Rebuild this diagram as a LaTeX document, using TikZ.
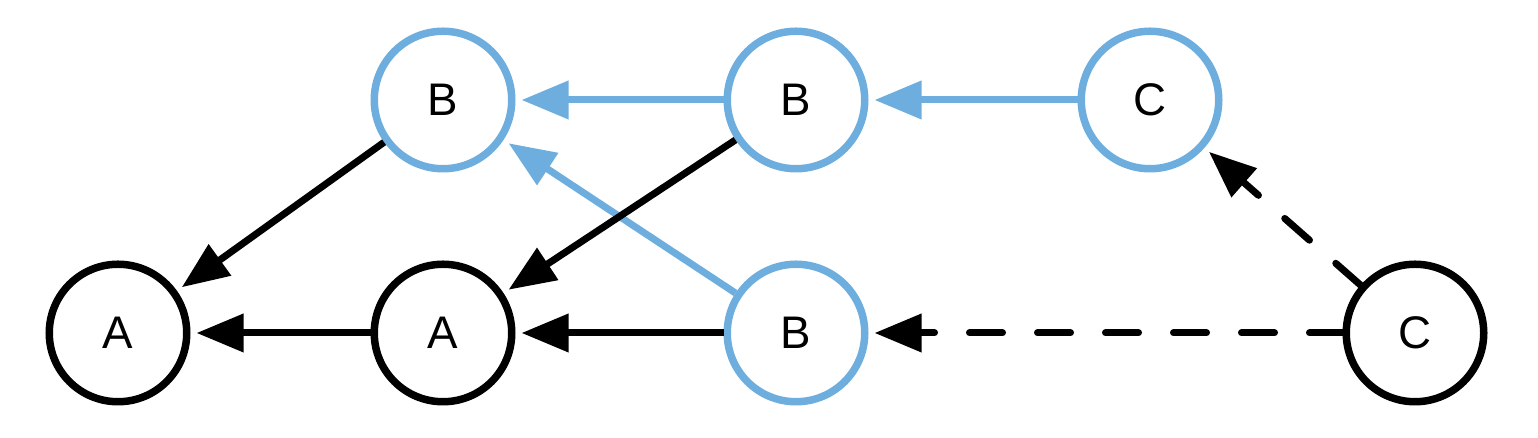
\documentclass[tikz,border=0pt]{standalone}
\usepackage{fontspec}
\setmainfont{Liberation Sans}
\usetikzlibrary{arrows.meta}
\definecolor{nodeblue}{RGB}{110,174,222}

\begin{document}
\begin{tikzpicture}[node distance=65mm, >={Triangle[length=9.4mm, width=7.4mm]},
  state/.style={circle, draw, line width=1.5mm, minimum size=27.5mm, inner sep=0pt, font=\fontsize{26}{26}\selectfont},
  bstate/.style={state, draw=nodeblue},
  edge/.style={->, line width=1.4mm, shorten >=1.2mm},
  bedge/.style={edge, draw=nodeblue, fill=nodeblue},
  dedge/.style={edge, dash pattern=on 6.6mm off 7mm, line cap=round}]
  \useasboundingbox (0,0) rectangle (30.76,8.76);

  \node[state] (a1) at (2.36,2.1) {A};
  \node[state, right of=a1] (a2) {A};
  \node[bstate, right of=a2, node distance=70.6mm] (b3) {B};
  \node[state, right of=b3, node distance=123.8mm] (c2) {C};
  \node[bstate, above of=a2, node distance=46.6mm] (b1) {B};
  \node[bstate, right of=b1, node distance=70.6mm] (b2) {B};
  \node[bstate, right of=b2, node distance=70.8mm] (c1) {C};

  \draw[bedge] (b2) -- (b1);
  \draw[bedge] (c1) -- (b2);
  \draw[bedge] (b3) -- (b1);
  \draw[edge] (b1) -- (a1);
  \draw[edge] (b2) -- (a2);
  \draw[edge] (a2) -- (a1);
  \draw[edge] (b3) -- (a2);
  \draw[dedge] (c2) -- (b3);
  \draw[dedge] (c2) -- (c1);
\end{tikzpicture}
\end{document}
